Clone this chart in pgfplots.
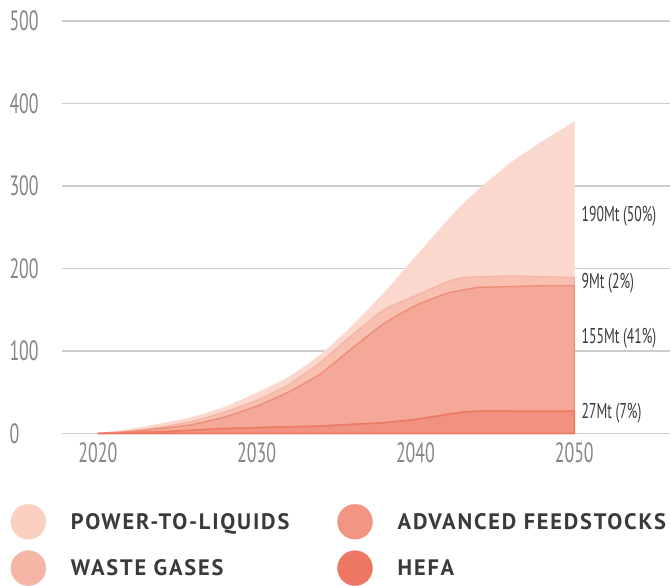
\documentclass[border=0pt]{standalone}
\usepackage{pgfplots}
\pgfplotsset{compat=1.18}
\usepackage{pgfplotstable}
\usepackage{fontspec}
\setmainfont{PT Sans}
\newfontfamily\condfont{PT Sans}[FakeStretch=0.64]
\newfontfamily\legfont{PT Sans}[LetterSpace=8]
\definecolor{ptl}{HTML}{FBD8CD}
\definecolor{waste}{HTML}{F7C0B1}
\definecolor{adv}{HTML}{F4A998}
\definecolor{hefa}{HTML}{F1917F}
\definecolor{hefaline}{HTML}{EE7A65}
\definecolor{advline}{HTML}{F08D79}
\definecolor{wasteline}{HTML}{F5B3A3}
\definecolor{legptl}{HTML}{FBCFC2}
\definecolor{legwaste}{HTML}{F6B6A6}
\definecolor{legadv}{HTML}{F29683}
\definecolor{leghefa}{HTML}{EE7763}
\definecolor{gridc}{HTML}{CCCCCC}
\definecolor{tickc}{HTML}{858585}
\definecolor{txt}{HTML}{3A3A3A}

\pgfplotstableread{
year hefa adv waste ptl
2020 0 0 0 0
2022 1 1 1 2
2024 2 4 2 4
2026 4 7 4 5
2028 6 14 6 6
2030 7 26 7 9
2032 8 42 9 9
2034 9 63 14 9
2036 11 92 16 11
2038 13 120 17 20
2040 17 138 12 47
2042 23 147 14 74
2043 26 148 15 89
2044 27 150 13 106
2046 27 151 13 137
2048 27 152 11 164
2050 27 152 10 189
}\datatable

\begin{document}
\begin{tikzpicture}
\begin{axis}[
  scale only axis,
  width=609bp, height=413bp,
  xmin=2017.74, xmax=2056.04,
  ymin=0, ymax=500,
  axis line style={draw=none},
  clip=false,
  stack plots=y,
  xtick={2020,2030,2040,2050},
  ytick={0,100,200,300,400,500},
  ymajorgrids=true,
  grid style={gridc, line width=1.6bp},
  major tick length=0pt,
  /pgf/number format/assume math mode=true,
  /pgf/number format/1000 sep={},
  ticklabel style={font=\condfont\fontsize{28}{28}\selectfont, text=tickc},
  yticklabel style={anchor=west, xshift=-56bp},
  xticklabel style={anchor=center, yshift=-19bp},
  legend columns=2,
  legend cell align=left,
  legend style={at={(-0.0846,-0.1707)}, anchor=north west, draw=none, fill=none,
    font=\legfont\bfseries\fontsize{22.5}{22.5}\selectfont, text=txt,
    row sep=11bp, inner sep=0pt,
    /tikz/every odd column/.append style={column sep=23bp},
    /tikz/every even column/.append style={column sep=46bp}},
]
% HEFA
\addplot[draw=hefaline, line width=1.6bp, fill=hefa, smooth, tension=0.3, forget plot] table[x=year, y=hefa] {\datatable} \closedcycle;
% Advanced feedstocks
\addplot[draw=advline, line width=1.4bp, fill=adv, smooth, tension=0.3, forget plot] table[x=year, y=adv] {\datatable} \closedcycle;
% Waste gases
\addplot[draw=wasteline, line width=1.2bp, fill=waste, smooth, tension=0.3, forget plot] table[x=year, y=waste] {\datatable} \closedcycle;
% Power-to-liquids
\addplot[draw=ptl!90!white, line width=0.6bp, fill=ptl, smooth, tension=0.3, forget plot] table[x=year, y=ptl] {\datatable} \closedcycle;

\addlegendimage{legend image code/.code={\fill[legptl] (17.5bp,0) circle (17.5bp);}}
\addlegendentry{POWER-TO-LIQUIDS}
\addlegendimage{legend image code/.code={\fill[legadv] (17.5bp,0) circle (17.5bp);}}
\addlegendentry{ADVANCED FEEDSTOCKS}
\addlegendimage{legend image code/.code={\fill[legwaste] (17.5bp,0) circle (17.5bp);}}
\addlegendentry{WASTE GASES}
\addlegendimage{legend image code/.code={\fill[leghefa] (17.5bp,0) circle (17.5bp);}}
\addlegendentry{HEFA}

\node[anchor=west, text=txt, inner sep=0pt, font=\condfont\fontsize{21.5}{21.5}\selectfont] at (axis cs:2050.45,263) {190Mt (50\%)};
\node[anchor=west, text=txt, inner sep=0pt, font=\condfont\fontsize{21.5}{21.5}\selectfont] at (axis cs:2050.45,182) {9Mt (2\%)};
\node[anchor=west, text=txt, inner sep=0pt, font=\condfont\fontsize{21.5}{21.5}\selectfont] at (axis cs:2050.45,116) {155Mt (41\%)};
\node[anchor=west, text=txt, inner sep=0pt, font=\condfont\fontsize{21.5}{21.5}\selectfont] at (axis cs:2050.45,25) {27Mt (7\%)};
\end{axis}
\path ([xshift=-62bp,yshift=21bp]current axis.north west) rectangle ([yshift=-151bp]current axis.south east);
\end{tikzpicture}
\end{document}
